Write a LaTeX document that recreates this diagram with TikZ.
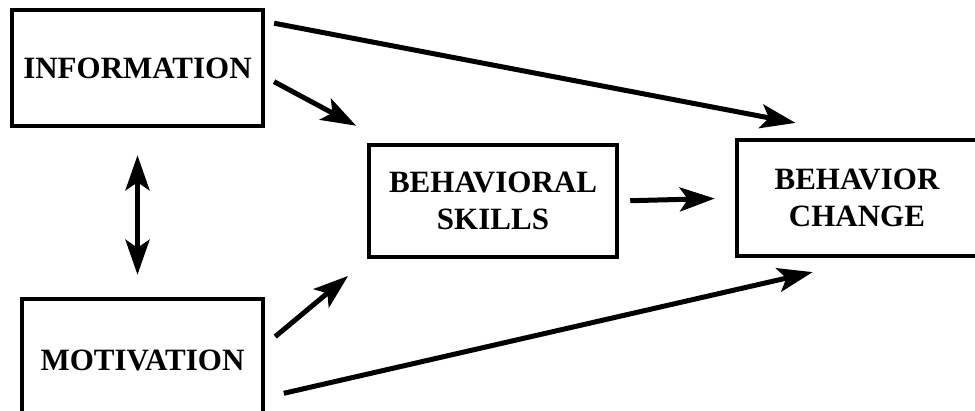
\documentclass[tikz,border=0pt]{standalone}
\usepackage{fontspec}
\setmainfont{Liberation Serif}
\usetikzlibrary{arrows.meta}
\begin{document}
\begin{tikzpicture}[x=1pt, y=-1pt, line width=5pt, >={Stealth[length=35pt,width=24pt,inset=8pt]}, box node/.style={rectangle,draw,line width=4.5pt,inner sep=0pt,align=center,font=\bfseries\fontsize{31}{37}\selectfont}]
\useasboundingbox (0,0) rectangle (975,410);
\begin{scope}[every node/.style={box node}]
\node [minimum width=251pt, minimum height=116pt](info) at (137.5,68) {INFORMATION};
\node [minimum width=241pt, minimum height=122pt](mot) at (142.5,360) {MOTIVATION};
\node [minimum width=248pt, minimum height=112pt](skills) at (493,201) {BEHAVIORAL\\SKILLS};
\node [minimum width=240pt, minimum height=116pt](change) at (857,198) {BEHAVIOR\\CHANGE};
\end{scope}
\path[->]
    (info.-4) edge[shorten <=10pt, shorten >=36pt] (skills.151)
    (info.20) edge[shorten <=9pt, shorten >=79pt] (change.75)
    (mot.7) edge[shorten <=13pt, shorten >=26pt] (skills.205)
    (mot.-17) edge[shorten <=19pt, shorten >=62pt] (change.-75)
    (skills.east) edge[shorten <=11pt, shorten >=20pt] (change.west)
    (info.south) edge[<->, shorten <=27pt, shorten >=22pt] (info.south |- mot.north)
         ;
\end{tikzpicture}
\end{document}
